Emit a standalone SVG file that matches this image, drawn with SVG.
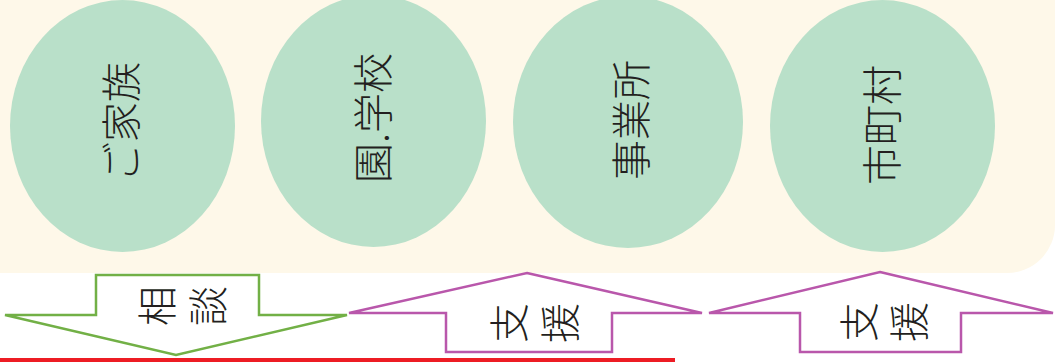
<svg xmlns="http://www.w3.org/2000/svg" width="1057" height="362" viewBox="0 0 1057 362">
  <style>
    .bubble { fill: #b9e0c9; }
    .lbl { font-family: "Noto Sans CJK JP", "Noto Sans CJK SC", sans-serif; font-size: 40px; font-weight: 300; fill: #231f20; text-anchor: middle; dominant-baseline: central; }
    .arrow { fill: #ffffff; stroke-width: 2.5; stroke-linejoin: miter; }
    .green { stroke: #72b046; }
    .purple { stroke: #b957ab; }
  </style>
  <rect width="1057" height="362" fill="#ffffff"/>
  <path id="panel" d="M0,0 H1055 V225 A48,48 0 0 1 1007,273 H0 Z" fill="#fef8e9"/>

  <g id="node-family">
    <ellipse class="bubble" cx="122.5" cy="126" rx="112.5" ry="126"/>
    <text class="lbl" transform="translate(119,122) rotate(-90)">ご家族</text>
  </g>
  <g id="node-school">
    <ellipse class="bubble" cx="373.5" cy="121" rx="112.5" ry="126"/>
    <text class="lbl" transform="translate(371,118) rotate(-90)">園.学校</text>
  </g>
  <g id="node-office">
    <ellipse class="bubble" cx="628" cy="122" rx="115" ry="126"/>
    <text class="lbl" transform="translate(629,120) rotate(-90)">事業所</text>
  </g>
  <g id="node-city">
    <ellipse class="bubble" cx="882.5" cy="126" rx="112.5" ry="126"/>
    <text class="lbl" transform="translate(880,125) rotate(-90)">市町村</text>
  </g>

  <g id="connectors">
    <g id="arrow-consult">
      <polygon class="arrow green" points="96,275 259,275 259,315 347,315 176,355 5,315 96,315"/>
      <text class="lbl" transform="translate(155,306) rotate(-90)">相</text>
      <text class="lbl" transform="translate(206,306) rotate(-90)">談</text>
    </g>
    <g id="arrow-support-1">
      <polygon class="arrow purple" points="527,273 702,313 612,313 612,352 446,352 446,313 349,313"/>
      <text class="lbl" transform="translate(507,323) rotate(-90)">支</text>
      <text class="lbl" transform="translate(558,323) rotate(-90)">援</text>
    </g>
    <g id="arrow-support-2">
      <polygon class="arrow purple" points="880,272 1053,313 961,313 961,352 800,352 800,313 709,313"/>
      <text class="lbl" transform="translate(857,322) rotate(-90)">支</text>
      <text class="lbl" transform="translate(907,322) rotate(-90)">援</text>
    </g>
  </g>

  <rect id="red-line" x="0" y="358" width="675" height="4" fill="#ed1c24"/>
</svg>
